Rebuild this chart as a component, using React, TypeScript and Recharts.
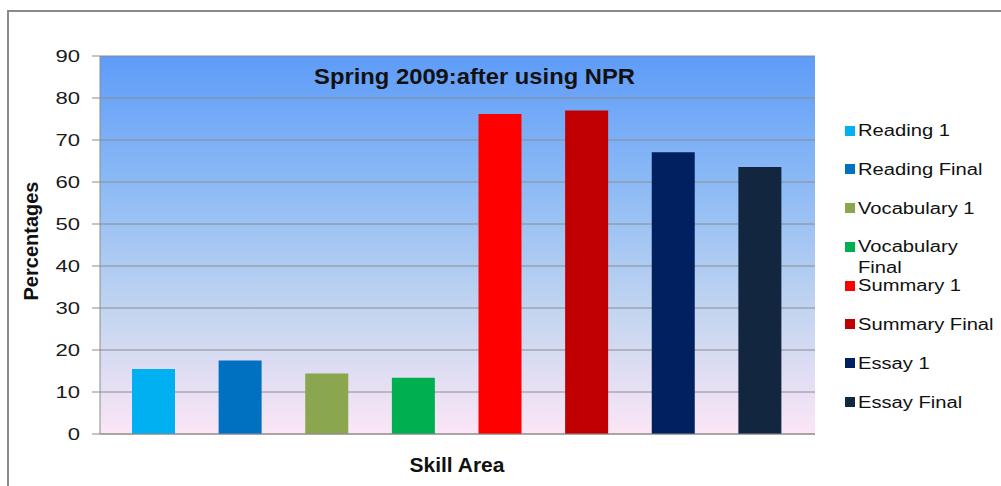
import { Bar, BarChart, CartesianGrid, Cell, XAxis, YAxis } from "recharts";

const skills = [
  "Reading 1",
  "Reading Final",
  "Vocabulary 1",
  "Vocabulary Final",
  "Summary 1",
  "Summary Final",
  "Essay 1",
  "Essay Final",
];
const percentages = [15.5, 17.5, 14.4, 13.4, 76.2, 77.0, 67.1, 63.6];
const barColors = [
  "#00B0F0",
  "#0070C0",
  "#8AA64E",
  "#00B050",
  "#FF0000",
  "#C00000",
  "#002060",
  "#13263F",
];
const yTicks = [0, 10, 20, 30, 40, 50, 60, 70, 80, 90];

const chartData = skills.map((name, i) => ({ name, value: percentages[i] }));

const FONT = "'Liberation Sans', Arial, sans-serif";

const YTick = (props: any) => {
  const { x, y, payload } = props;
  return (
    <g transform={`translate(${x},${y}) scale(1.3,1)`}>
      <text textAnchor="end" dy="0.36em" fontSize={17} fill="#1a1a1a" fontFamily={FONT}>
        {payload.value}
      </text>
    </g>
  );
};

const SkillLegend = () => (
  <div style={{ position: "absolute", left: 845, top: 120, fontFamily: FONT }}>
    {skills.map((name, i) => (
      <div key={name} style={{ display: "flex", alignItems: "flex-start", height: 38.8 }}>
        <span
          style={{
            width: 10,
            height: 10,
            marginTop: 5.5,
            background: barColors[i],
            flex: "none",
          }}
        />
        <span
          style={{
            marginLeft: 3,
            width: 112,
            fontSize: 16,
            lineHeight: "21px",
            color: "#111",
            transform: "scaleX(1.26)",
            transformOrigin: "left",
            display: "inline-block",
          }}
        >
          {name}
        </span>
      </div>
    ))}
  </div>
);

export default function App() {
  return (
    <div
      style={{
        position: "absolute",
        left: 0,
        top: 0,
        width: 1001,
        height: 486,
        overflow: "hidden",
        background: "#fff",
        fontFamily: FONT,
      }}
    >
      <div
        style={{
          position: "absolute",
          left: 7,
          top: 10,
          width: 1100,
          height: 600,
          border: "2px solid #8a8a8a",
        }}
      />
      <div style={{ position: "absolute", left: 0, top: 0 }}>
        <BarChart
          width={1001}
          height={486}
          data={chartData}
          margin={{ top: 56, right: 186, bottom: 0, left: 0 }}
        >
          <defs>
            <linearGradient id="plotBg" x1="0" y1="0" x2="0" y2="1">
              <stop offset="0%" stopColor="#5E9CF8" />
              <stop offset="35%" stopColor="#8EBBF5" />
              <stop offset="68%" stopColor="#C3D5F0" />
              <stop offset="100%" stopColor="#FCE6F6" />
            </linearGradient>
          </defs>
          <CartesianGrid
            vertical={false}
            stroke="#8c8c8c"
            fill="url(#plotBg)"
            fillOpacity={1}
          />
          <XAxis
            dataKey="name"
            height={52}
            tick={false}
            tickLine={false}
            axisLine={{ stroke: "#8c8c8c" }}
            padding={{ left: 10, right: 12 }}
          />
          <YAxis
            width={100}
            domain={[0, 90]}
            ticks={yTicks}
            tickSize={8}
            tickMargin={12}
            tick={<YTick />}
            tickLine={{ stroke: "#8c8c8c" }}
            axisLine={{ stroke: "#8c8c8c" }}
          />
          <Bar dataKey="value" barSize={43} isAnimationActive={false}>
            {chartData.map((d, i) => (
              <Cell key={d.name} fill={barColors[i]} />
            ))}
          </Bar>
        </BarChart>
      </div>
      <div
        style={{
          position: "absolute",
          left: 0,
          width: 950,
          top: 66,
          textAlign: "center",
          fontWeight: "bold",
          fontSize: 22,
          lineHeight: "22px",
          color: "#111",
        }}
      >
        <span style={{ display: "inline-block", transform: "scaleX(1.08)" }}>
          Spring 2009:after using NPR
        </span>
      </div>
      <div
        style={{
          position: "absolute",
          left: 31,
          top: 241,
          transform: "translate(-50%, -50%) rotate(-90deg)",
          fontWeight: "bold",
          fontSize: 20,
          lineHeight: "20px",
          whiteSpace: "nowrap",
          color: "#111",
        }}
      >
        Percentages
      </div>
      <div
        style={{
          position: "absolute",
          left: 0,
          width: 914,
          top: 454,
          textAlign: "center",
          fontWeight: "bold",
          fontSize: 21,
          lineHeight: "21px",
          color: "#111",
        }}
      >
        Skill Area
      </div>
      <SkillLegend />
    </div>
  );
}
